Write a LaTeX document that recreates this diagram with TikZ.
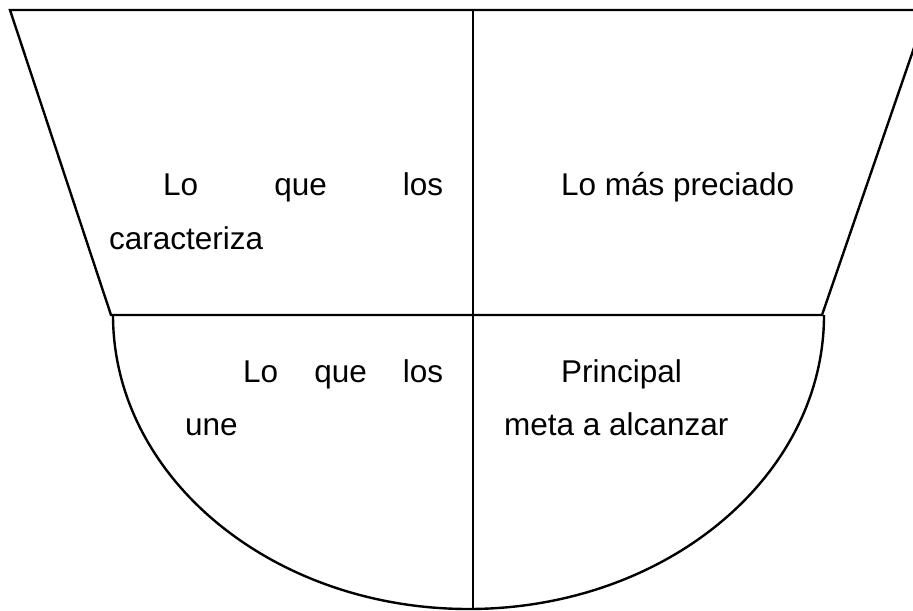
\documentclass[tikz,border=0pt]{standalone}
\usepackage{fontspec}
\setmainfont{Liberation Sans}

\begin{document}
\begin{tikzpicture}[x=0.5pt,y=-0.5pt,line width=1.2pt]
\tikzstyle{every node}+=[inner sep=0pt,anchor=base west,font=\fontsize{15.75pt}{19pt}\selectfont]
\clip (0,0) rectangle (913,610);
% trapecio superior
\coordinate (tl) at (10,10);
\coordinate (tr) at (927,10);
\coordinate (bl) at (111,315);
\coordinate (br) at (822,315);
\coordinate (mt) at (473,10);
\coordinate (mb) at (473,610);
\draw [black] (tr) -- (tl) -- (bl) -- (br) -- cycle;
\draw [black] (mt) -- (mb);
% semielipse inferior
\coordinate (el) at (113,315);
\draw [black] (el) arc [start angle=180, end angle=0, x radius=355.5, y radius=294];
% textos
\node (caract1) at (162,195) {\makebox[140pt][s]{Lo\hfill que\hfill los}};
\node (caract2) at (108,249) {caracteriza};
\node (preciado) at (560,195) {Lo más preciado};
\node (une1) at (242,382) {\makebox[100pt][s]{Lo\hfill que\hfill los}};
\node (une2) at (184,435) {une};
\node (meta1) at (560,382) {Principal};
\node (meta2) at (503,435) {meta a alcanzar};
\end{tikzpicture}
\end{document}
